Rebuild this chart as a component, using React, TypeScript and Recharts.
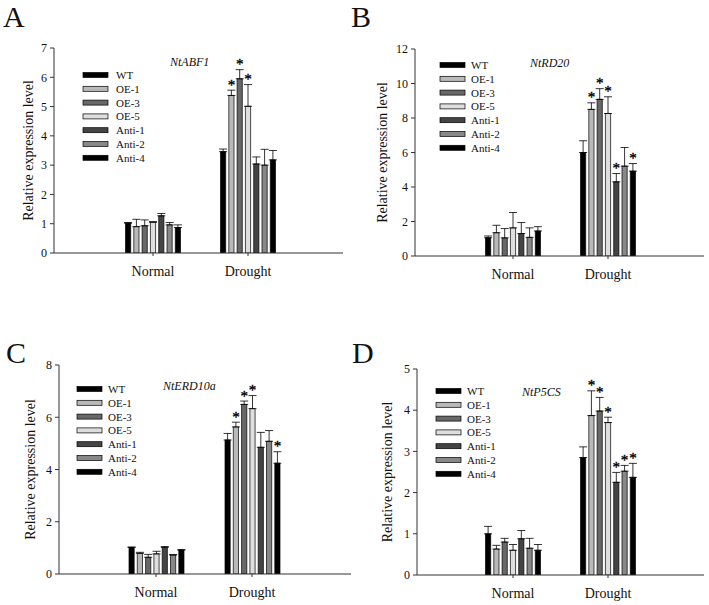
import React from 'react';
import { BarChart, Bar, XAxis, YAxis, ErrorBar, LabelList } from 'recharts';

const FONT = '"Liberation Serif", "Times New Roman", serif';

const conditions = ['Normal', 'Drought'];
const genotypes = ['WT', 'OE-1', 'OE-3', 'OE-5', 'Anti-1', 'Anti-2', 'Anti-4'];
const fills = ['#000000', '#b9b9b9', '#686868', '#dedede', '#444444', '#888888', '#000000'];

// Panel A — NtABF1
const abf1Normal = [1.02, 0.9, 0.93, 1.05, 1.27, 0.96, 0.87];
const abf1NormalErr = [0.02, 0.25, 0.2, 0.02, 0.08, 0.08, 0.09];
const abf1Drought = [3.46, 5.38, 5.95, 5.01, 3.04, 3.0, 3.18];
const abf1DroughtErr = [0.09, 0.18, 0.31, 0.74, 0.24, 0.54, 0.32];
const abf1DroughtSig = [0, 1, 1, 1, 0, 0, 0];
const abf1Ticks = [0, 1, 2, 3, 4, 5, 6, 7];

// Panel B — NtRD20
const rd20Normal = [1.06, 1.35, 1.05, 1.63, 1.3, 1.08, 1.45];
const rd20NormalErr = [0.1, 0.43, 0.54, 0.89, 0.64, 0.55, 0.25];
const rd20Drought = [6.0, 8.5, 9.08, 8.26, 4.3, 5.21, 4.92];
const rd20DroughtErr = [0.68, 0.38, 0.62, 0.97, 0.48, 1.08, 0.44];
const rd20DroughtSig = [0, 1, 1, 1, 1, 0, 1];
const rd20Ticks = [0, 2, 4, 6, 8, 10, 12];

// Panel C — NtERD10a
const erd10aNormal = [1.02, 0.79, 0.64, 0.77, 1.02, 0.73, 0.92];
const erd10aNormalErr = [0.01, 0.04, 0.11, 0.1, 0.03, 0.01, 0.01];
const erd10aDrought = [5.13, 5.63, 6.49, 6.33, 4.85, 5.08, 4.24];
const erd10aDroughtErr = [0.25, 0.18, 0.13, 0.5, 0.57, 0.41, 0.44];
const erd10aDroughtSig = [0, 1, 1, 1, 0, 0, 1];
const erd10aTicks = [0, 2, 4, 6, 8];

// Panel D — NtP5CS
const p5csNormal = [1.0, 0.63, 0.8, 0.6, 0.88, 0.65, 0.6];
const p5csNormalErr = [0.18, 0.09, 0.09, 0.14, 0.2, 0.24, 0.14];
const p5csDrought = [2.85, 3.87, 3.98, 3.7, 2.25, 2.52, 2.37];
const p5csDroughtErr = [0.26, 0.6, 0.33, 0.13, 0.24, 0.14, 0.34];
const p5csDroughtSig = [0, 1, 1, 1, 1, 1, 1];
const p5csTicks = [0, 1, 2, 3, 4, 5];

const panelLetters = ['A', 'B', 'C', 'D'];
const geneNames = ['NtABF1', 'NtRD20', 'NtERD10a', 'NtP5CS'];
const yTitle = 'Relative expression level';

function buildRows(normal: number[], normalErr: number[], drought: number[], droughtErr: number[], droughtSig: number[]) {
  const sets: any[] = [
    [normal, normalErr, null],
    [drought, droughtErr, droughtSig],
  ];
  return conditions.map((c, ci) => {
    const row: any = { condition: c };
    genotypes.forEach((g, gi) => {
      row[g] = sets[ci][0][gi];
      row[g + '_err'] = [0, sets[ci][1][gi]];
      row[g + '_sig'] = sets[ci][2] && sets[ci][2][gi] ? '*' : '';
    });
    return row;
  });
}

const panels = [
  { rows: buildRows(abf1Normal, abf1NormalErr, abf1Drought, abf1DroughtErr, abf1DroughtSig), ticks: abf1Ticks,
    ox: 0, oy: 0, w: 354, h: 300, left: 54, right: 343, top: 48, bottom: 253, t1: 153, t2: 248, labelOff: 26,
    letter: { x: 3, y: 26.7 }, gene: { x: 170, y: 66 }, legend: { x: 83, y: 75, tx: 116 } },
  { rows: buildRows(rd20Normal, rd20NormalErr, rd20Drought, rd20DroughtErr, rd20DroughtSig), ticks: rd20Ticks,
    ox: 354, oy: 0, w: 355, h: 300, left: 415, right: 704, top: 49, bottom: 256, t1: 513, t2: 608, labelOff: 33,
    letter: { x: 351, y: 26.7 }, gene: { x: 530, y: 67 }, legend: { x: 440, y: 65, tx: 471 } },
  { rows: buildRows(erd10aNormal, erd10aNormalErr, erd10aDrought, erd10aDroughtErr, erd10aDroughtSig), ticks: erd10aTicks,
    ox: 0, oy: 300, w: 354, h: 305, left: 59, right: 351, top: 365, bottom: 574, t1: 156, t2: 252, labelOff: 29,
    letter: { x: 6, y: 363 }, gene: { x: 163, y: 390 }, legend: { x: 77, y: 389, tx: 108 } },
  { rows: buildRows(p5csNormal, p5csNormalErr, p5csDrought, p5csDroughtErr, p5csDroughtSig), ticks: p5csTicks,
    ox: 354, oy: 300, w: 355, h: 305, left: 417, right: 704, top: 369, bottom: 575, t1: 513, t2: 608, labelOff: 30,
    letter: { x: 352, y: 363 }, gene: { x: 522, y: 396 }, legend: { x: 436, y: 391, tx: 467 } },
];

const makeStar = (rows: any[], g: string) => (props: any) => {
  const vb = props.viewBox || props;
  const { x, y, width, height } = vb;
  const index = props.index;
  if (!props.value || index == null) return null;
  const v = rows[index][g];
  const e = rows[index][g + '_err'][1];
  const ppu = height / v;
  const topY = y - e * ppu;
  return (
    <text x={x + width / 2} y={topY - 0.5} textAnchor="middle" fontSize={15} fontFamily={FONT}
      fill="#000" stroke="#000" strokeWidth={0.35}>
      *
    </text>
  );
};

const makeYLabel = (off: number) => (props: any) => {
  const vb = props.viewBox;
  const cx = vb.x + vb.width - off;
  const cy = vb.y + vb.height / 2;
  return (
    <text x={cx} y={cy} transform={`rotate(-90 ${cx} ${cy})`} textAnchor="middle" dominantBaseline="central"
      fontSize={14} fontFamily={FONT} fill="#111">
      {yTitle}
    </text>
  );
};

function Panel({ p }: { p: any }) {
  const half = (p.t2 - p.t1) / 2;
  const padL = p.t1 - half - p.left;
  const padR = p.right - (p.t2 + half);
  const yW = 40;
  const xH = 30;
  const margin = {
    top: p.top - p.oy,
    bottom: p.oy + p.h - p.bottom - xH,
    left: p.left - p.ox - yW,
    right: p.ox + p.w - p.right,
  };
  return (
    <div style={{ position: 'absolute', left: p.ox, top: p.oy }}>
      <BarChart width={p.w} height={p.h} data={p.rows} margin={margin} barSize={5.2} barGap={3.1}>
        <XAxis dataKey="condition" height={xH} padding={{ left: padL, right: padR }} interval={0}
          tickSize={3} tickMargin={10} axisLine={{ stroke: '#333' }} tickLine={{ stroke: '#333' }}
          tick={{ fill: '#111', fontSize: 14, fontFamily: FONT }} />
        <YAxis width={yW} type="number" domain={[0, p.ticks[p.ticks.length - 1]]} ticks={p.ticks} interval={0}
          allowDataOverflow tickSize={4} tickMargin={3} axisLine={{ stroke: '#333' }} tickLine={{ stroke: '#333' }}
          tick={{ fill: '#111', fontSize: 12, fontFamily: FONT }} label={makeYLabel(p.labelOff)} />
        {genotypes.map((g, gi) => (
          <Bar key={g} dataKey={g} fill={fills[gi]} stroke="#000" strokeWidth={0.7} isAnimationActive={false}>
            <ErrorBar dataKey={g + '_err'} width={4} stroke="#000" strokeWidth={0.8} direction="y" />
            <LabelList dataKey={g + '_sig'} content={makeStar(p.rows, g)} />
          </Bar>
        ))}
      </BarChart>
    </div>
  );
}

export default function App() {
  return (
    <div style={{ position: 'absolute', left: 0, top: 0, width: 709, height: 605, background: '#fff', overflow: 'hidden' }}>
      {panels.map((p, i) => (
        <Panel key={i} p={p} />
      ))}
      <svg width={709} height={605} style={{ position: 'absolute', left: 0, top: 0, pointerEvents: 'none' }}>
        {panels.map((p, i) => (
          <g key={i}>
            <text x={p.letter.x} y={p.letter.y} fontSize={30} fontFamily={FONT} fill="#111">{panelLetters[i]}</text>
            <text x={p.gene.x} y={p.gene.y} fontSize={12} fontStyle="italic" fontFamily={FONT} fill="#111">{geneNames[i]}</text>
            {genotypes.map((g, gi) => {
              const cy = p.legend.y + gi * 13.8;
              return (
                <g key={g}>
                  <rect x={p.legend.x} y={cy - 2.5} width={25} height={5} fill={fills[gi]} stroke="#000" strokeWidth={0.7} />
                  <text x={p.legend.tx} y={cy + 4} fontSize={11} fontFamily={FONT} fill="#111">{g}</text>
                </g>
              );
            })}
          </g>
        ))}
      </svg>
    </div>
  );
}
